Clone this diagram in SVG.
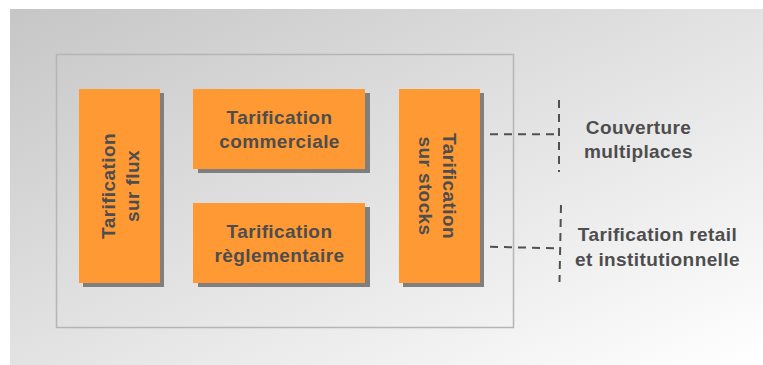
<svg xmlns="http://www.w3.org/2000/svg" width="763" height="365" viewBox="0 0 763 365">
<defs>
<linearGradient id="bg" x1="0" y1="0" x2="1" y2="1">
<stop offset="0" stop-color="#c6c6c6"/>
<stop offset="1" stop-color="#ffffff"/>
</linearGradient>
</defs>
<style>
.box{fill:#ff9933}
.sh{fill:#7f7f7f}
.t{font-family:"Liberation Sans",Arial,sans-serif;font-weight:bold;font-size:19px;letter-spacing:0.4px;fill:#4d4d4d;text-anchor:middle}
.d{fill:none;stroke:#505050;stroke-width:2;stroke-dasharray:8 6}
</style>
<rect x="10" y="9" width="753" height="356" fill="url(#bg)"/>
<rect id="frame" x="56.5" y="54.5" width="457" height="273" fill="none" stroke="#b5b5b5" stroke-width="1.5"/>
<g id="flux">
<rect class="sh" x="83" y="93" width="81" height="194"/>
<rect class="box" x="79" y="89" width="81" height="194"/>
<text class="t" transform="translate(115,186) rotate(-90)"><tspan x="0" y="0">Tarification</tspan><tspan x="0" y="24">sur flux</tspan></text>
</g>
<g id="commerciale">
<rect class="sh" x="198" y="93" width="172" height="80"/>
<rect class="box" x="193" y="89" width="172" height="80"/>
<text class="t"><tspan x="279.5" y="123.5">Tarification</tspan><tspan x="279.5" y="147.5">commerciale</tspan></text>
</g>
<g id="reglementaire">
<rect class="sh" x="198" y="207" width="172" height="80"/>
<rect class="box" x="193" y="203" width="172" height="80"/>
<text class="t"><tspan x="279.5" y="237.5">Tarification</tspan><tspan x="279.5" y="261.5">règlementaire</tspan></text>
</g>
<g id="stocks">
<rect class="sh" x="403" y="93" width="81" height="194"/>
<rect class="box" x="399" y="89" width="81" height="194"/>
<text class="t" transform="translate(443,186) rotate(90)"><tspan x="0" y="0">Tarification</tspan><tspan x="0" y="24">sur stocks</tspan></text>
</g>
<g id="connectors">
<line class="d" x1="490" y1="134.3" x2="558" y2="134.3"/>
<line class="d" x1="559" y1="100" x2="559" y2="172"/>
<line class="d" x1="490" y1="246.7" x2="556" y2="248.3"/>
<line class="d" x1="561" y1="205" x2="559.5" y2="282"/>
</g>
<g id="couverture">
<text class="t"><tspan x="638.5" y="134">Couverture</tspan><tspan x="638.5" y="157.5">multiplaces</tspan></text>
</g>
<g id="retail">
<text class="t"><tspan x="657.5" y="240.5">Tarification retail</tspan><tspan x="657.5" y="265.5">et institutionnelle</tspan></text>
</g>
</svg>
